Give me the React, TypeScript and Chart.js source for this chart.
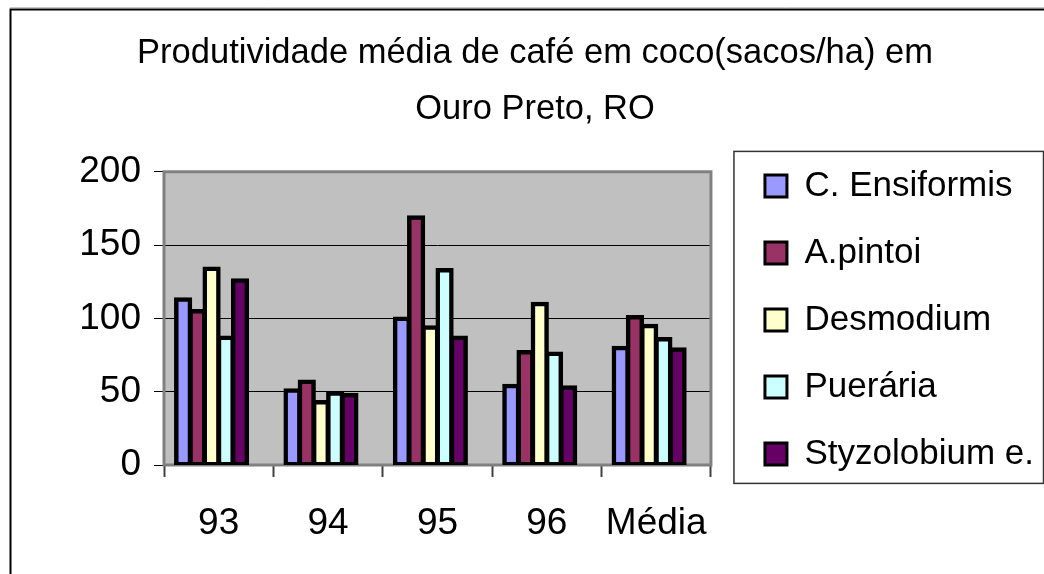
import React, { useEffect, useRef } from 'react';
import { Chart, registerables } from 'chart.js';

Chart.register(...registerables);

const categories = ['93', '94', '95', '96', 'Média'];
const seriesNames = ['C. Ensiformis', 'A.pintoi', 'Desmodium', 'Puerária', 'Styzolobium e.'];
const cEnsiformis = [113, 51, 100, 54, 80];
const aPintoi = [105, 57, 169, 77, 101];
const desmodium = [134, 43, 94, 110, 95];
const pueraria = [87, 49, 133, 76, 86];
const styzolobium = [126, 48, 87, 53, 79];
const seriesColors = ['#9999FF', '#993366', '#FFFFCC', '#CCFFFF', '#660066'];
const yMin = 0;
const yMax = 200;
const yStep = 50;
const titleLines = ['Produtividade média de café em coco(sacos/ha) em', 'Ouro Preto, RO'];

const FONT = "'Liberation Sans', Arial, Helvetica, sans-serif";

const decor = {
  id: 'decor',
  beforeDraw(chart: any) {
    const { ctx, chartArea: a } = chart;
    ctx.save();
    ctx.fillStyle = '#C0C0C0';
    ctx.fillRect(a.left, a.top, a.right - a.left, a.bottom - a.top);
    ctx.restore();
  },
  beforeDatasetsDraw(chart: any) {
    const { ctx, chartArea: a } = chart;
    ctx.save();
    ctx.strokeStyle = '#808080';
    ctx.lineWidth = 3;
    ctx.strokeRect(a.left, a.top, a.right - a.left, a.bottom - a.top);
    ctx.restore();
  },
  afterDraw(chart: any) {
    const { ctx } = chart;
    const W = chart.width;
    const H = chart.height;
    ctx.save();
    // outer frame
    ctx.strokeStyle = '#C8C8C8';
    ctx.lineWidth = 1;
    ctx.beginPath();
    ctx.moveTo(10, 7.5);
    ctx.lineTo(W, 7.5);
    ctx.stroke();
    ctx.strokeStyle = '#000';
    ctx.lineWidth = 2;
    ctx.beginPath();
    ctx.moveTo(10.5, H);
    ctx.lineTo(10.5, 9.5);
    ctx.lineTo(W, 9.5);
    ctx.stroke();
    // legend border
    const lg = chart.legend;
    const hb = lg && lg.legendHitBoxes;
    if (hb && hb.length) {
      const top = hb[0].top - 17;
      const last = hb[hb.length - 1];
      const bottom = last.top + last.height + 12;
      ctx.strokeStyle = '#333';
      ctx.lineWidth = 1.5;
      ctx.strokeRect(lg.left + 1, top, lg.right - lg.left - 1.5, bottom - top);
    }
    ctx.restore();
  },
};

export default function App() {
  const ref = useRef<HTMLCanvasElement | null>(null);

  useEffect(() => {
    if (!ref.current) return;
    const seriesData = [cEnsiformis, aPintoi, desmodium, pueraria, styzolobium];
    const datasets: any[] = seriesNames.map((name, i) => ({
      label: name,
      data: seriesData[i],
      backgroundColor: seriesColors[i],
      borderColor: '#000',
      borderWidth: 4.5,
      borderSkipped: false,
      inflateAmount: 2,
      categoryPercentage: 0.78,
      barPercentage: 1,
    }));
    // empty slot after the five bars (group sits left of the category centre)
    datasets.push({
      label: '',
      data: categories.map(() => null),
      backgroundColor: 'rgba(0,0,0,0)',
      borderWidth: 0,
      categoryPercentage: 0.78,
      barPercentage: 1,
    });

    const defaultGen = (Chart as any).defaults.plugins.legend.labels.generateLabels;

    const chart = new Chart(ref.current, {
      type: 'bar',
      data: { labels: categories, datasets },
      plugins: [decor],
      options: {
        animation: false,
        responsive: false,
        layout: { padding: { left: 26, right: 0, top: 0, bottom: 0 } },
        plugins: {
          title: {
            display: true,
            text: titleLines,
            color: '#000',
            font: { family: FONT, size: 34.5, weight: 'normal', lineHeight: 1.62 },
            padding: { top: 25.5, bottom: 34.5 },
          },
          legend: {
            position: 'right',
            align: 'start',
            maxWidth: 400,
            title: {
              display: true,
              text: '',
              font: { family: FONT, size: 12, lineHeight: 1.2 },
              padding: { top: 122, bottom: 0 },
            },
            labels: {
              color: '#000',
              font: { family: FONT, size: 35 },
              boxWidth: 22,
              boxHeight: 22,
              padding: 32,
              generateLabels: (c: any) =>
                defaultGen(c).map((l: any) => ({ ...l, lineWidth: 3 })),
              filter: (item: any) => item.datasetIndex < seriesNames.length,
            },
          },
          tooltip: { enabled: false },
        },
        scales: {
          x: {
            type: 'category',
            offset: true,
            border: { display: false },
            grid: {
              display: true,
              drawOnChartArea: false,
              offset: true,
              tickLength: 12,
              tickColor: '#404040',
              tickWidth: 2,
            },
            ticks: {
              color: '#000',
              font: { family: FONT, size: 37 },
              padding: 25,
              maxRotation: 0,
              autoSkip: false,
            },
            afterFit: (s: any) => {
              s.height = 109;
            },
          },
          y: {
            type: 'linear',
            min: yMin,
            max: yMax,
            border: { display: false },
            grid: {
              color: (c: any) =>
                c.tick && (c.tick.value === yMin || c.tick.value === yMax) ? 'rgba(0,0,0,0)' : '#000',
              lineWidth: 1,
              tickLength: 10,
              tickColor: '#000',
            },
            ticks: {
              stepSize: yStep,
              color: '#000',
              font: { family: FONT, size: 37 },
              padding: 13,
            },
            afterFit: (s: any) => {
              s.width = 138;
            },
          },
          gap: {
            type: 'linear',
            position: 'right',
            display: true,
            border: { display: false },
            grid: { display: false, drawTicks: false },
            ticks: { display: false },
            afterFit: (s: any) => {
              s.width = 22;
            },
          },
        },
      } as any,
    });
    return () => chart.destroy();
  }, []);

  return (
    <div style={{ position: 'fixed', left: 0, top: 0, width: 1044, height: 574, background: '#fff' }}>
      <canvas ref={ref} width={1044} height={574} style={{ display: 'block' }} />
    </div>
  );
}
